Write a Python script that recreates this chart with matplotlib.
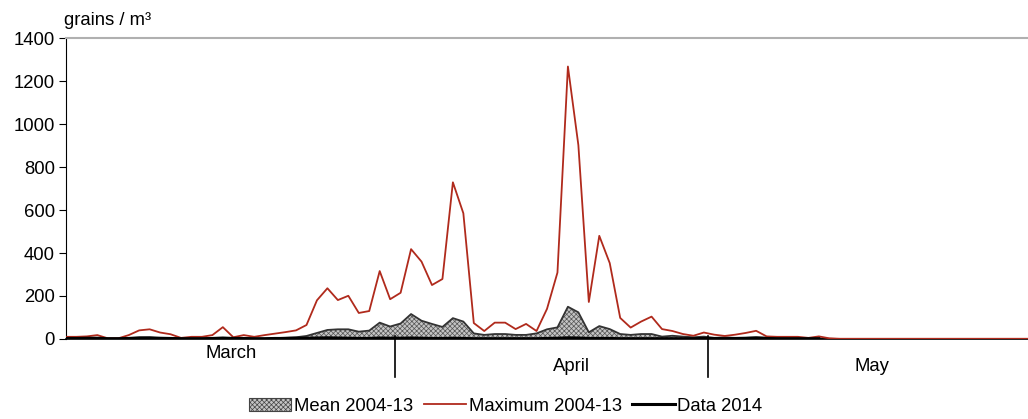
import matplotlib.pyplot as plt
import matplotlib.transforms as mtransforms
from matplotlib.patches import Patch
from matplotlib.lines import Line2D
import numpy as np

plt.rcParams['font.family'] = ['Liberation Sans', 'DejaVu Sans']
plt.rcParams['hatch.linewidth'] = 0.5
plt.rcParams['hatch.color'] = '#555555'

# daily values from 1 March, one per day
max_0413 = [10, 10, 12, 18, 3, 3, 18, 40, 45, 30, 22, 5, 10, 10, 18, 55, 8, 18, 10, 18,
            25, 32, 40, 65, 180, 236, 181, 201, 121, 130, 316, 185, 215, 418, 360, 251,
            279, 729, 585, 74, 37, 76, 76, 46, 70, 37, 140, 309, 1268, 902, 172, 480,
            353, 98, 53, 81, 104, 46, 37, 23, 15, 30, 20, 14, 20, 28, 38, 12, 10, 10,
            10, 5, 12, 3] + [1] * 19
mean_0413 = [2, 2, 2, 2, 2, 2, 2, 5, 6, 4, 2, 2, 2, 2, 2, 5, 2, 2, 2, 2,
             4, 6, 8, 14, 28, 42, 45, 45, 34, 39, 76, 58, 72, 116, 85, 70,
             56, 97, 81, 26, 19, 23, 23, 19, 19, 26, 45, 54, 150, 124, 31, 60,
             46, 23, 19, 23, 23, 11, 15, 11, 8, 11, 5, 8, 5, 5, 8, 6, 4, 3,
             3, 2, 3, 1] + [0] * 19
data_2014 = [3, 3, 4, 4, 2, 2, 3, 6, 6, 4, 3, 2, 2, 2, 3, 5, 3, 3, 2, 2,
             3, 3, 4, 4, 5, 6, 5, 4, 3, 3, 5, 4, 4, 5, 4, 3, 3, 4, 3, 2,
             2, 2, 2, 2, 2, 2, 3, 4, 6, 5, 3, 3, 3, 2, 2, 2, 2, 2, 2, 2,
             2, 3, 3, 2, 3, 4, 5, 3, 2, 2, 2, 2, 2]
months = ['March', 'April', 'May']
month_pos = [15.8, 48.3, 77.1]
month_sep = [31.5, 61.4]

days = np.arange(len(max_0413))
fs = 13.3

fig = plt.figure(figsize=(10.28, 4.19), dpi=100)
ax = fig.add_axes([0.0642, 0.191, 0.9358, 0.718])

ax.fill_between(days, mean_0413, 0, facecolor='#c4c4c4', edgecolor='#555555',
                hatch='xxxxxxx', linewidth=0)
ax.plot(days, mean_0413, color='#333333', linewidth=1.3)
ax.plot(days, max_0413, color='#b02a1c', linewidth=1.3, zorder=3)
ax.plot(np.arange(len(data_2014)), data_2014, color='black', linewidth=2, zorder=3)

ax.set_xlim(0, 92)
ax.set_ylim(0, 1400)
ax.set_yticks(np.arange(0, 1401, 200))
ax.tick_params(axis='y', labelsize=fs, length=5, pad=3)
ax.set_xticks([])
ax.spines['right'].set_visible(False)
ax.spines['top'].set_color('#b0b0b0')
ax.spines['top'].set_linewidth(1.5)
ax.spines['bottom'].set_linewidth(1.2)

trans = mtransforms.blended_transform_factory(ax.transData, ax.transAxes)
for s in month_sep:
    ax.plot([s, s], [0.01, -0.126], color='black', linewidth=1.2,
            transform=trans, clip_on=False)
ax.text(month_pos[0], -0.047, months[0], transform=trans, ha='center', va='center', fontsize=fs)
for m, p in zip(months[1:], month_pos[1:]):
    ax.text(p, -0.09, m, transform=trans, ha='center', va='center', fontsize=fs)

fig.text(0.062, 0.952, 'grains / m³', fontsize=fs, ha='left', va='center')

handles = [Patch(facecolor='#c4c4c4', edgecolor='#444444', hatch='xxxxxxx', linewidth=0.8),
           Line2D([], [], color='#b02a1c', linewidth=1.3),
           Line2D([], [], color='black', linewidth=2.2)]
fig.legend(handles, ['Mean 2004-13', 'Maximum 2004-13', 'Data 2014'], loc='center',
           bbox_to_anchor=(0.492, 0.03), ncol=3, frameon=False, fontsize=fs,
           handlelength=2.3, handletextpad=0.15, columnspacing=0.55)

fig.savefig('out.png', dpi=100)
